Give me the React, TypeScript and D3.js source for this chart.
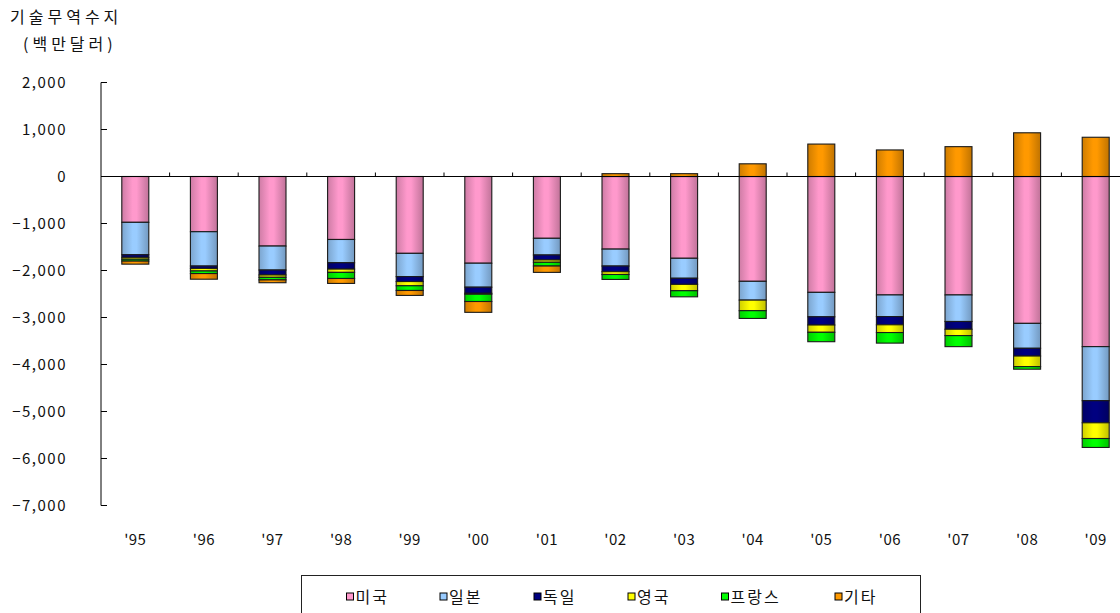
import React from "react";
import * as d3 from "d3";

const years = ["'95", "'96", "'97", "'98", "'99", "'00", "'01", "'02", "'03", "'04", "'05", "'06", "'07", "'08", "'09"];
const seriesNames = ["미국", "일본", "독일", "영국", "프랑스", "기타"];
const seriesColors = ["#FF99CC", "#99CCFF", "#000080", "#FFFF00", "#00FF00", "#FF9900"];

const usa = [-975, -1175, -1480, -1340, -1635, -1845, -1315, -1545, -1740, -2230, -2465, -2520, -2520, -3125, -3620];
const japan = [-690, -730, -510, -495, -495, -510, -355, -360, -425, -400, -520, -460, -565, -530, -1150];
const germany = [-55, -50, -105, -135, -105, -130, -105, -120, -130, 0, -175, -175, -165, -165, -470];
const uk = [-40, -55, -50, -70, -90, -20, -50, -60, -135, -225, -155, -165, -135, -225, -335];
const france = [-40, -55, -55, -130, -100, -155, -80, -105, -130, -165, -200, -225, -235, -55, -190];
const others = [-65, -120, -60, -105, -105, -230, -135, 60, 60, 270, 690, 565, 635, 930, 835];

const yTicks = [2000, 1000, 0, -1000, -2000, -3000, -4000, -5000, -6000, -7000];

const W = 1120;
const H = 613;

export default function App() {
  const seriesValues = [usa, japan, germany, uk, france, others];
  const rows = years.map((yr, i) => {
    const r: any = { year: yr };
    seriesNames.forEach((s, k) => (r[s] = seriesValues[k][i]));
    return r;
  });
  const stack = d3.stack<any>().keys(seriesNames).offset(d3.stackOffsetDiverging);
  const stacked = stack(rows);

  const x = d3.scaleBand<string>().domain(years).range([101, 1130]).padding(0);
  const y = d3.scaleLinear().domain([-7000, 2000]).range([505.5, 82.5]);
  const barW = 27;
  const fmt = d3.format(",");
  const font = "'Noto Sans CJK KR', 'Noto Sans', sans-serif";

  const legendItems = [346.5, 440, 534, 628, 721.5, 835];

  return (
    <svg width={W} height={H} style={{ position: "absolute", left: 0, top: 0, background: "#fff" }}>
      <defs>
        {seriesColors.map((c, i) => {
          const base = d3.color(c)!;
          return (
            <linearGradient key={i} id={`g${i}`} x1="0" x2="1" y1="0" y2="0">
              <stop offset="0%" stopColor={base.darker(0.6).formatHex()} />
              <stop offset="40%" stopColor={c} />
              <stop offset="55%" stopColor={c} />
              <stop offset="100%" stopColor={base.darker(0.8).formatHex()} />
            </linearGradient>
          );
        })}
      </defs>

      <text x={10} y={23} fontFamily={font} fontSize={16} letterSpacing={4} fill="#111">기술무역수지</text>
      <text x={23} y={50} fontFamily={font} fontSize={16} letterSpacing={4} fill="#111">(백만달러)</text>

      {/* y axis */}
      <line x1={101} x2={101} y1={y(2000)} y2={y(-7000)} stroke="#000" strokeWidth={1} />
      {yTicks.map((t) => (
        <g key={t}>
          <line x1={101} x2={107} y1={y(t)} y2={y(t)} stroke="#000" strokeWidth={1} />
          <text x={67} y={y(t)} dy="0.35em" textAnchor="end" fontFamily={font} fontSize={15} letterSpacing={1.5} fill="#111">
            {fmt(t)}
          </text>
        </g>
      ))}

      {/* bars */}
      {stacked.map((s, k) => (
        <g key={k}>
          {s.map((d, i) => {
            const y0 = y(d[0]);
            const y1 = y(d[1]);
            const top = Math.min(y0, y1);
            const h = Math.abs(y0 - y1);
            if (h < 0.1) return null;
            const cx = x(years[i])! + x.bandwidth() / 2;
            return (
              <rect
                key={i}
                x={cx - barW / 2}
                y={top}
                width={barW}
                height={h}
                fill={`url(#g${k})`}
                stroke="#1a1a1a"
                strokeWidth={1.1}
              />
            );
          })}
        </g>
      ))}

      {/* zero line and category ticks */}
      <line x1={101} x2={W} y1={y(0)} y2={y(0)} stroke="#000" strokeWidth={1} />
      {years.slice(1).map((yr) => (
        <line key={yr} x1={x(yr)!} x2={x(yr)!} y1={y(0)} y2={y(0) - 4} stroke="#000" strokeWidth={1} />
      ))}

      {/* x labels */}
      {years.map((yr) => (
        <text key={yr} x={x(yr)! + x.bandwidth() / 2} y={540} dy="0.35em" textAnchor="middle" fontFamily={font} fontSize={15} letterSpacing={0.5} fill="#111">
          {yr}
        </text>
      ))}

      {/* legend */}
      <rect x={301.5} y={575.5} width={619} height={60} fill="#fff" stroke="#222" strokeWidth={1} />
      {seriesNames.map((s, k) => (
        <g key={s}>
          <rect x={legendItems[k]} y={593} width={7} height={7} fill={seriesColors[k]} stroke="#000" strokeWidth={1} />
          <text x={legendItems[k] + 9} y={597} dy="0.35em" fontFamily={font} fontSize={16} letterSpacing={2} fill="#111">
            {s}
          </text>
        </g>
      ))}
    </svg>
  );
}
